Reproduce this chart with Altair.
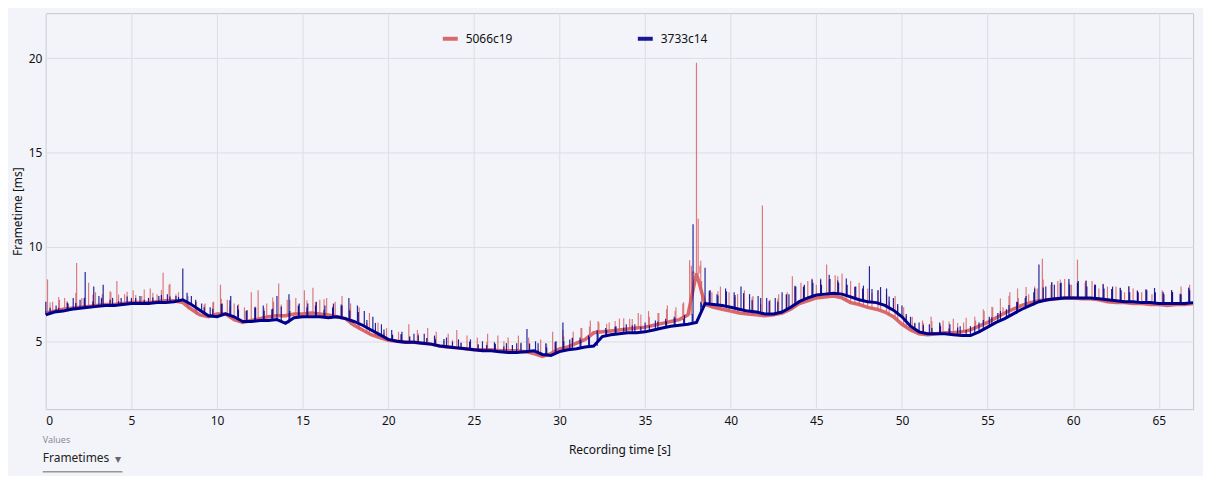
import altair as alt
import pandas as pd

STEP = 0.5  # seconds between trend samples
blue_base = [
    6.40, 6.55, 6.60, 6.70, 6.75, 6.80, 6.85, 6.90, 6.90, 6.95,
    7.00, 7.00, 7.00, 7.05, 7.05, 7.10, 7.20, 6.95, 6.65, 6.35,
    6.30, 6.45, 6.30, 6.05, 6.05, 6.10, 6.10, 6.15, 5.95, 6.25,
    6.30, 6.30, 6.30, 6.25, 6.30, 6.20, 6.05, 5.85, 5.60, 5.35,
    5.10, 5.00, 4.95, 4.95, 4.90, 4.85, 4.75, 4.70, 4.65, 4.60,
    4.55, 4.50, 4.50, 4.45, 4.40, 4.40, 4.45, 4.50, 4.30, 4.25,
    4.45, 4.55, 4.60, 4.70, 4.75, 5.25, 5.35, 5.40, 5.45, 5.45,
    5.50, 5.60, 5.70, 5.80, 5.85, 5.90, 6.00, 7.00, 6.95, 6.90,
    6.80, 6.70, 6.60, 6.55, 6.45, 6.45, 6.55, 6.80, 7.10, 7.30,
    7.45, 7.50, 7.55, 7.50, 7.35, 7.20, 7.10, 7.05, 6.90, 6.65,
    6.30, 5.80, 5.50, 5.40, 5.40, 5.40, 5.35, 5.30, 5.30, 5.50,
    5.75, 6.00, 6.20, 6.45, 6.70, 6.90, 7.10, 7.20, 7.25, 7.30,
    7.30, 7.30, 7.30, 7.25, 7.20, 7.15, 7.10, 7.10, 7.05, 7.05,
    7.00, 7.00, 7.00, 7.00, 7.05,
]
red_base = [
    6.50, 6.60, 6.70, 6.75, 6.80, 6.85, 6.90, 6.95, 6.95, 7.00,
    7.05, 7.05, 7.05, 7.10, 7.15, 7.15, 7.05, 6.70, 6.40, 6.30,
    6.45, 6.45, 6.15, 6.00, 6.10, 6.20, 6.30, 6.35, 6.35, 6.45,
    6.45, 6.50, 6.45, 6.40, 6.30, 6.20, 5.85, 5.60, 5.35, 5.20,
    5.05, 5.00, 4.95, 4.95, 4.90, 4.85, 4.75, 4.70, 4.65, 4.60,
    4.55, 4.55, 4.55, 4.50, 4.50, 4.50, 4.45, 4.35, 4.20, 4.35,
    4.60, 4.70, 4.90, 5.10, 5.45, 5.50, 5.55, 5.60, 5.65, 5.70,
    5.75, 5.85, 5.95, 6.05, 6.15, 6.40, 8.60, 6.95, 6.80, 6.70,
    6.60, 6.50, 6.45, 6.40, 6.35, 6.40, 6.50, 6.70, 7.00, 7.15,
    7.30, 7.35, 7.40, 7.30, 7.05, 6.95, 6.80, 6.70, 6.55, 6.30,
    5.90, 5.60, 5.40, 5.35, 5.40, 5.45, 5.45, 5.50, 5.60, 5.80,
    6.00, 6.25, 6.50, 6.70, 6.90, 7.05, 7.15, 7.20, 7.25, 7.30,
    7.30, 7.25, 7.25, 7.20, 7.10, 7.05, 7.05, 7.00, 7.00, 6.95,
    6.95, 6.90, 6.95, 6.95, 7.00,
]

# short jitter hairs, one between each pair of trend samples (height above trend, ms)
red_jitter = [
    0.5, 0.7, 0.4, 0.8, 0.5, 0.6, 0.4, 0.7, 0.5, 0.6,
    0.4, 0.7, 0.5, 0.6, 0.9, 0.5, 0.3, 0.5, 0.6, 0.7,
    0.8, 0.5, 0.9, 0.6, 0.7, 0.5, 1.0, 0.6, 0.8, 0.5,
    0.7, 0.6, 0.8, 0.5, 0.6, 0.7, 0.4, 0.5, 0.4, 0.3,
    0.3, 0.4, 0.3, 0.5, 0.3, 0.4, 0.3, 0.4, 0.3, 0.4,
    0.3, 0.4, 0.3, 0.5, 0.3, 0.4, 0.5, 0.3, 0.6, 0.5,
    0.6, 0.4, 0.7, 0.5, 0.6, 0.4, 0.5, 0.6, 0.5, 0.7,
    0.5, 0.6, 0.7, 0.5, 0.8, 1.2, 1.5, 0.7, 0.9, 0.6,
    0.8, 0.7, 0.9, 0.6, 0.7, 0.8, 0.9, 1.0, 0.8, 1.1,
    1.0, 0.9, 1.1, 0.8, 0.9, 0.7, 0.8, 0.6, 0.7, 0.8,
    0.6, 0.5, 0.6, 0.7, 0.5, 0.6, 0.5, 0.7, 0.6, 0.8,
    0.7, 0.9, 0.8, 1.0, 0.9, 0.8, 1.1, 0.9, 1.0, 0.8,
    0.9, 1.0, 0.8, 0.9, 0.7, 0.8, 0.9, 0.7, 0.8, 0.6,
    0.7, 0.8, 0.6, 0.9,
]
blue_jitter = [
    0.3, 0.2, 0.4, 0.3, 0.5, 0.3, 0.4, 0.3, 0.2, 0.4,
    0.3, 0.2, 0.3, 0.4, 0.3, 0.2, 0.5, 0.4, 0.3, 0.4,
    0.6, 0.8, 0.5, 0.6, 0.7, 0.5, 0.6, 0.8, 0.5, 0.6,
    0.5, 0.6, 0.4, 0.5, 0.7, 0.5, 0.6, 0.4, 0.5, 0.4,
    0.3, 0.4, 0.3, 0.4, 0.3, 0.3, 0.4, 0.3, 0.3, 0.4,
    0.3, 0.3, 0.4, 0.3, 0.4, 0.5, 0.4, 0.5, 0.4, 0.6,
    0.5, 0.6, 0.4, 0.5, 0.4, 0.3, 0.4, 0.3, 0.4, 0.3,
    0.3, 0.4, 0.3, 0.4, 0.3, 0.5, 0.6, 0.7, 0.5, 0.8,
    0.7, 0.9, 0.6, 0.8, 0.7, 0.6, 0.8, 1.0, 0.7, 0.9,
    0.8, 1.0, 0.7, 0.9, 0.6, 0.8, 0.7, 0.9, 0.6, 0.5,
    0.4, 0.3, 0.4, 0.3, 0.4, 0.3, 0.4, 0.3, 0.4, 0.5,
    0.4, 0.5, 0.6, 0.5, 0.6, 0.8, 0.7, 0.9, 0.8, 1.0,
    0.8, 0.9, 0.7, 0.8, 0.6, 0.7, 0.8, 0.6, 0.7, 0.8,
    0.6, 0.7, 0.5, 0.8,
]

red_spike_t = [
    0.1, 0.4, 0.8, 1.1, 1.8, 2.1, 2.5, 2.9, 3.3, 3.8, 4.15, 4.6, 5.1, 5.6, 6.1, 6.5,
    6.85, 7.2, 7.6, 8.3, 8.8, 9.3, 9.8, 10.2, 10.6, 11.0, 11.6, 12.0, 12.4, 12.9,
    13.3, 13.6, 14.1, 14.6, 15.1, 15.6, 16.0, 16.4, 16.9, 17.3, 17.8, 18.3, 18.9,
    19.4, 19.9, 20.6, 21.2, 21.7, 22.3, 22.8, 23.5, 24.0, 24.6, 25.2, 25.8, 26.4,
    27.0, 27.6, 28.2, 28.9, 29.6, 30.2, 30.8, 31.3, 31.8, 32.3, 32.9, 33.5, 34.1,
    34.6, 35.2, 35.8, 36.3, 36.8, 37.2, 37.6, 37.7, 37.85, 38.0, 38.1, 38.2, 38.3,
    38.9, 39.4, 39.9, 40.4, 40.8, 41.3, 41.85, 42.3, 42.8, 43.3, 43.6, 44.1, 44.5,
    45.0, 45.6, 46.1, 46.5, 47.0, 47.5, 48.0, 48.6, 49.1, 49.6, 50.1, 50.6, 51.2,
    51.7, 52.4, 53.0, 53.6, 54.3, 54.8, 55.3, 55.9, 56.3, 56.8, 57.4, 57.9, 58.2,
    58.7, 59.1, 59.5, 59.9, 60.25, 60.7, 61.1, 61.5, 62.0, 62.5, 63.0, 63.5, 64.0,
    64.6, 65.2, 65.8, 66.3, 66.8,
]
red_spike_v = [
    8.28, 7.1, 7.2, 7.3, 9.15, 7.3, 8.1, 7.6, 7.5, 7.6, 8.2, 7.5, 7.7, 7.4, 7.8, 7.5,
    8.63, 8.0, 7.5, 7.4, 7.1, 7.0, 7.1, 8.0, 7.2, 7.0, 6.8, 7.6, 7.7, 7.0,
    7.1, 8.07, 7.2, 7.3, 7.7, 7.84, 7.2, 7.3, 7.1, 7.4, 7.0, 6.8, 6.5,
    6.0, 5.7, 5.5, 5.9, 5.6, 5.7, 5.5, 5.4, 5.6, 5.3, 5.2, 5.4, 5.3,
    5.2, 5.3, 5.2, 5.1, 5.5, 5.6, 5.5, 5.7, 6.1, 6.0, 6.0, 6.2, 6.2,
    6.5, 6.6, 6.5, 6.9, 6.8, 7.0, 9.3, 9.0, 8.7, 19.77, 11.5, 9.0, 8.2,
    7.6, 7.9, 7.6, 7.5, 7.7, 7.4, 12.2, 7.2, 7.5, 7.6, 8.45, 8.1, 8.2,
    8.0, 9.07, 8.5, 8.6, 8.2, 8.1, 7.8, 7.7, 7.5, 7.4, 6.8, 6.3, 6.1,
    6.3, 6.1, 6.2, 6.0, 6.1, 6.6, 6.8, 6.8, 7.6, 7.3, 7.5, 7.8, 9.38,
    8.0, 8.2, 8.3, 8.0, 9.33, 8.1, 8.2, 7.8, 7.9, 7.9, 7.6, 7.8, 7.6,
    7.5, 7.7, 7.6, 7.9, 8.0,
]
blue_spike_t = [
    0.0, 0.6, 1.3, 1.6, 2.0, 2.3, 2.8, 3.1, 3.35, 3.9, 4.4, 5.0, 5.5, 6.0, 6.6, 7.1,
    7.6, 8.0, 8.5, 9.1, 9.6, 10.3, 10.8, 11.2, 11.7, 12.2, 12.7, 13.2, 13.5, 14.2,
    14.8, 15.3, 15.8, 16.3, 16.8, 17.3, 17.7, 18.2, 18.6, 19.1, 19.6, 20.2, 20.8,
    21.5, 22.1, 22.7, 23.4, 24.1, 24.8, 25.5, 26.2, 26.9, 27.5, 28.1, 28.6, 29.2,
    29.8, 30.2, 30.6, 31.2, 31.7, 32.2, 32.7, 33.3, 33.9, 34.4, 35.0, 35.6, 36.2,
    36.7, 37.3, 37.8, 38.3, 38.5, 38.8, 39.2, 39.7, 40.2, 40.6, 41.1, 41.6, 42.1,
    42.6, 43.0, 43.4, 43.8, 44.3, 44.8, 45.3, 45.8, 46.3, 46.8, 47.3, 47.7, 48.1,
    48.6, 49.1, 49.5, 50.0, 50.5, 51.0, 51.6, 52.2, 52.8, 53.4, 54.0, 54.5, 55.1,
    55.6, 56.1, 56.7, 57.2, 57.7, 58.0, 58.4, 58.9, 59.3, 59.8, 60.3, 60.8, 61.3,
    61.8, 62.3, 62.8, 63.3, 63.8, 64.3, 64.8, 65.3, 65.8, 66.3, 66.8,
]
blue_spike_v = [
    7.1, 6.9, 7.0, 7.3, 7.2, 8.68, 7.9, 7.4, 8.0, 7.3, 7.3, 7.3, 7.4, 7.3, 7.4, 7.5,
    7.4, 8.86, 7.4, 7.0, 6.8, 7.0, 7.4, 6.9, 6.6, 6.8, 6.9, 6.7, 7.4, 7.5,
    7.0, 7.0, 7.1, 6.9, 7.0, 6.9, 7.3, 6.9, 6.6, 6.3, 5.9, 5.6, 5.5,
    5.4, 5.4, 5.3, 5.2, 5.1, 5.1, 5.0, 4.95, 4.9, 4.9, 5.65, 5.0, 4.9,
    5.0, 6.0, 5.1, 5.2, 5.3, 5.6, 5.7, 5.8, 5.9, 5.9, 6.0, 6.1, 6.2,
    6.3, 6.4, 11.2, 6.8, 8.9, 7.7, 7.5, 7.8, 7.6, 7.9, 7.5, 7.4, 7.3,
    7.3, 7.6, 7.5, 7.9, 8.0, 8.1, 8.0, 8.3, 8.1, 8.0, 7.9, 7.8, 8.98,
    7.7, 7.8, 7.3, 6.9, 6.3, 6.0, 5.9, 6.0, 5.9, 5.8, 5.8, 6.0, 6.3,
    6.5, 6.7, 7.1, 7.3, 7.6, 9.07, 7.9, 8.0, 8.1, 8.0, 8.2, 7.9, 8.0,
    7.8, 7.9, 7.7, 7.6, 7.6, 7.7, 7.6, 7.5, 7.6, 7.5, 7.7,
]

series_names = ["5066c19", "3733c14"]
series_colors = ["#d65a5c", "#00008b"]
x_ticks = [0, 5, 10, 15, 20, 25, 30, 35, 40, 45, 50, 55, 60, 65]
y_ticks = [5, 10, 15, 20]

times = [i * STEP for i in range(len(blue_base))]
lines = pd.DataFrame({
    "t": times * 2,
    "v": red_base + blue_base,
    "s": [series_names[0]] * len(red_base) + [series_names[1]] * len(blue_base),
})
red_lines = lines[lines.s == series_names[0]]
blue_lines = lines[lines.s == series_names[1]]


def spikes(ts, vs, base):
    return pd.DataFrame({
        "t": ts,
        "hi": vs,
        "lo": [base[min(len(base) - 1, int(round(t / STEP)))] for t in ts],
    })


def hairs(amps, base):
    ts = [times[i] + STEP / 2 for i in range(len(amps))]
    lo = [(base[i] + base[i + 1]) / 2 for i in range(len(amps))]
    return pd.DataFrame({"t": ts, "lo": lo, "hi": [l + a for l, a in zip(lo, amps)]})


red_sp = spikes(red_spike_t, red_spike_v, red_base)
blue_sp = spikes(blue_spike_t, blue_spike_v, blue_base)
red_hr = hairs(red_jitter, red_base)
blue_hr = hairs(blue_jitter, blue_base)

FONT = "Segoe UI, Noto Sans, Open Sans, sans-serif"

xs = alt.X("t:Q", scale=alt.Scale(domain=[0, 67], nice=False, zero=False),
           axis=alt.Axis(values=x_ticks, title="Recording time [s]", format="d",
                         labelPadding=6, titlePadding=19, tickSize=0, domain=False))
ys = alt.Y("v:Q", scale=alt.Scale(domain=[1.4, 22.4], nice=False, zero=False),
           axis=alt.Axis(values=y_ticks, title="Frametime [ms]", format="d",
                         labelPadding=4, titlePadding=4, tickSize=0, domain=False))

color = alt.Color("s:N", scale=alt.Scale(domain=series_names, range=series_colors),
                  legend=alt.Legend(title=None, orient="none", legendX=397, legendY=16,
                                    direction="horizontal", columnPadding=118,
                                    symbolType="stroke", symbolStrokeWidth=4,
                                    symbolSize=225, labelFontSize=12, labelColor="#111",
                                    labelFont=FONT, symbolOffset=0, labelOffset=6))

red_line = alt.Chart(red_lines).mark_line(strokeWidth=3.5, opacity=0.9).encode(x=xs, y=ys, color=color)
blue_line = alt.Chart(blue_lines).mark_line(strokeWidth=3).encode(x=xs, y=ys, color=color)


def rule_layer(df, col, width, op):
    return alt.Chart(df).mark_rule(color=col, strokeWidth=width, opacity=op).encode(
        x="t:Q", y="lo:Q", y2="hi:Q")


red_rules = rule_layer(red_sp, "#d65a5c", 1.2, 0.8)
red_hairs = rule_layer(red_hr, "#d65a5c", 1.2, 0.75)
blue_hairs = rule_layer(blue_hr, "#00008b", 1.2, 0.85)
blue_rules = rule_layer(blue_sp, "#00008b", 1.2, 0.85)

values_label = alt.Chart(pd.DataFrame({"txt": ["Values"]})).mark_text(
    align="left", baseline="middle", fontSize=9, color="#8a8a95", font=FONT).encode(
    text="txt:N", x=alt.value(-3), y=alt.value(429))
frametimes_label = alt.Chart(pd.DataFrame({"txt": ["Frametimes"]})).mark_text(
    align="left", baseline="middle", fontSize=12, color="#222", font=FONT).encode(
    text="txt:N", x=alt.value(-3), y=alt.value(447))
dropdown = alt.Chart(pd.DataFrame({"txt": ["▾"]})).mark_text(
    align="center", baseline="middle", fontSize=12, color="#666").encode(
    text="txt:N", x=alt.value(73), y=alt.value(448))
underline = alt.Chart(pd.DataFrame({"a": [0]})).mark_rule(color="#666", strokeWidth=1).encode(
    x=alt.value(-3), x2=alt.value(77), y=alt.value(461))

chart = alt.layer(red_line, red_rules, red_hairs, blue_hairs, blue_rules, blue_line,
                  values_label, frametimes_label, dropdown, underline).properties(
    width=1153, height=398,
    autosize=alt.AutoSizeParams(type="none"),
    padding={"left": 38, "top": 4, "right": 10, "bottom": 66},
    background="#f3f4f9",
).configure_view(stroke="#c6c6cf", strokeWidth=1, fill="#f3f4f9").configure_axis(
    gridColor="#dddde5", gridWidth=1, labelFont=FONT, titleFont=FONT, labelFontSize=12,
    titleFontSize=12, labelColor="#111", titleColor="#111", titleFontWeight="normal",
)

chart.save("out.html", embed_options={"renderer": "svg", "actions": False})
